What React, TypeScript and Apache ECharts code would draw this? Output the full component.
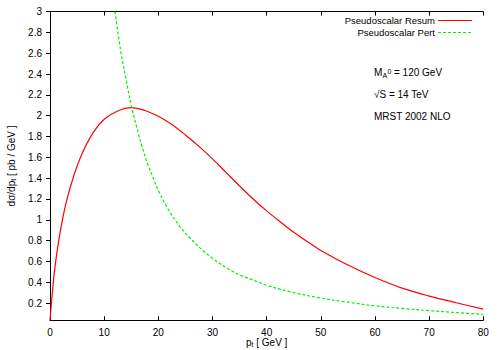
import React, { useEffect, useRef } from "react";
import * as echarts from "echarts";

const ptResum = [0, 0.3, 0.9, 1.8, 3, 4.5, 6, 8, 10, 12.5, 15, 17.5, 20, 22.5, 25, 27.5, 30, 32.5, 35, 37.5, 40, 42.5, 45, 47.5, 50, 55, 60, 65, 70, 75, 80];
const resumValues = [0.034, 0.22, 0.54, 0.86, 1.17, 1.44, 1.645, 1.84, 1.965, 2.045, 2.077, 2.05, 1.995, 1.915, 1.815, 1.705, 1.585, 1.455, 1.325, 1.2, 1.085, 0.98, 0.88, 0.79, 0.705, 0.565, 0.445, 0.343, 0.267, 0.203, 0.142];
const ptPert = [12, 13, 14, 15, 16, 17, 18, 19, 20, 22, 24, 26, 28, 30, 32.5, 35, 37.5, 40, 45, 50, 55, 60, 65, 70, 75, 80];
const pertValues = [3.0, 2.64, 2.36, 2.1, 1.89, 1.7, 1.54, 1.41, 1.28, 1.085, 0.935, 0.815, 0.715, 0.63, 0.54, 0.47, 0.42, 0.37, 0.3, 0.248, 0.208, 0.173, 0.148, 0.127, 0.108, 0.091];
const yTicks = [0.2, 0.4, 0.6, 0.8, 1, 1.2, 1.4, 1.6, 1.8, 2, 2.2, 2.4, 2.6, 2.8, 3];
const seriesNames = ["Pseudoscalar Resum", "Pseudoscalar Pert"];
const annotations = ["√S = 14 TeV", "MRST 2002 NLO"];

const FONT = "Liberation Sans";
const RED = "#ff0000";
const GREEN = "#00f000";

export default function App() {
  const ref = useRef<HTMLDivElement>(null);
  useEffect(() => {
    if (!ref.current) return;
    const chart = echarts.init(ref.current, null, { renderer: "svg" });
    const axisLine = { show: true, lineStyle: { color: "#000", width: 1 } };
    const labelStyle = { color: "#000", fontFamily: FONT, fontSize: 10 };
    const sub = { s: { fontFamily: FONT, fontSize: 7, color: "#000", padding: [4, 0, 0, 0] } };
    chart.setOption({
      animation: false,
      backgroundColor: "#fff",
      grid: { left: 50, right: 16.7, top: 11.6, bottom: 29.7, show: false, outerBoundsMode: "none", containLabel: false },
      xAxis: [
        {
          type: "value", min: 0, max: 80, interval: 10, position: "bottom",
          axisLine, splitLine: { show: false },
          axisTick: { show: true, inside: true, length: 4, lineStyle: { color: "#000" } },
          axisLabel: { ...labelStyle, margin: 7 },
          name: "p{s|t} [ GeV ]", nameLocation: "middle", nameGap: 17, nameMoveOverlap: false,
          nameTextStyle: { ...labelStyle, rich: sub },
        },
        {
          type: "value", min: 0, max: 80, interval: 10, position: "top",
          axisLine, splitLine: { show: false },
          axisTick: { show: true, inside: true, length: 4, lineStyle: { color: "#000" } },
          axisLabel: { show: false },
        },
      ],
      yAxis: [
        {
          type: "value", min: 0.034, max: 3, position: "left",
          axisLine, splitLine: { show: false },
          axisTick: { show: false },
          axisLabel: { ...labelStyle, margin: 8, customValues: yTicks },
          name: "dσ/dp{s|t} [ pb / GeV ]", nameLocation: "middle", nameGap: 33, nameMoveOverlap: false,
          nameTextStyle: { ...labelStyle, rich: sub },
        },
        {
          type: "value", min: 0.034, max: 3, position: "right",
          axisLine, splitLine: { show: false },
          axisTick: { show: true, inside: true, length: 4, lineStyle: { color: "#000" }, customValues: yTicks },
          axisLabel: { show: false },
        },
      ],
      series: [
        {
          name: seriesNames[0], type: "line", xAxisIndex: 0, yAxisIndex: 0,
          data: ptResum.map((x, i) => [x, resumValues[i]]),
          smooth: 0.35, showSymbol: false, lineStyle: { color: RED, width: 1.2 },
        },
        {
          name: seriesNames[1], type: "line", xAxisIndex: 0, yAxisIndex: 0,
          data: ptPert.map((x, i) => [x, pertValues[i]]),
          smooth: 0.35, showSymbol: false, lineStyle: { color: GREEN, width: 1.2, type: [3, 2] },
        },
      ],
      graphic: [
        { type: "text", right: 65, top: 15.5, style: { text: seriesNames[0], fill: "#000", font: `9.5px ${FONT}`, textAlign: "right" } },
        { type: "line", shape: { x1: 438, y1: 20.5, x2: 472, y2: 20.5 }, style: { stroke: RED, lineWidth: 1.2 } },
        { type: "text", right: 65, top: 27.5, style: { text: seriesNames[1], fill: "#000", font: `9.5px ${FONT}`, textAlign: "right" } },
        { type: "line", shape: { x1: 438, y1: 32.5, x2: 472, y2: 32.5 }, style: { stroke: GREEN, lineWidth: 1.2, lineDash: [3, 2] } },
        { type: "text", x: 374, y: 67, style: { text: "M", fill: "#000", font: `10px ${FONT}` } },
        { type: "text", x: 382.5, y: 72, style: { text: "A", fill: "#000", font: `7px ${FONT}` } },
        { type: "text", x: 387.5, y: 68, style: { text: "0", fill: "#000", font: `7px ${FONT}` } },
        { type: "text", x: 394, y: 67, style: { text: "= 120 GeV", fill: "#000", font: `10px ${FONT}` } },
        { type: "text", x: 374, y: 89, style: { text: annotations[0], fill: "#000", font: `10px ${FONT}` } },
        { type: "text", x: 374, y: 111, style: { text: annotations[1], fill: "#000", font: `10px ${FONT}` } },
      ],
    });
    return () => chart.dispose();
  }, []);
  return <div ref={ref} style={{ position: "fixed", left: 0, top: 0, width: 500, height: 350 }} />;
}
